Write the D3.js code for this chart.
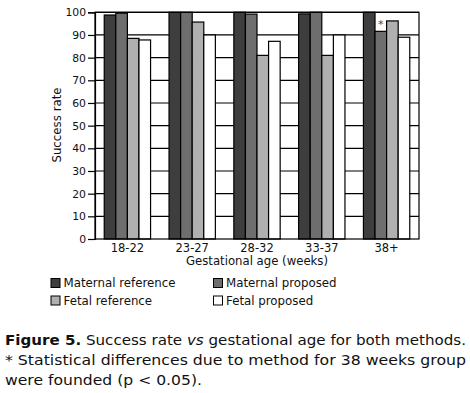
<!DOCTYPE html>
<html><head><meta charset="utf-8">
<script src="https://cdn.jsdelivr.net/npm/d3@7"></script>
<style>
html,body{margin:0;padding:0;background:#fff;}
svg{display:block;font-family:"DejaVu Sans",sans-serif;}
</style></head>
<body>
<svg id="chart" width="470" height="393"></svg>
<script>
const categories = ["18-22","23-27","28-32","33-37","38+"];
const seriesNames = ["Maternal reference","Maternal proposed","Fetal reference","Fetal proposed"];
const maternalReference = [98.8, 100, 100, 99.3, 100];
const maternalProposed  = [99.6, 100, 99.2, 100, 91.6];
const fetalReference    = [88.5, 95.7, 81.0, 81.0, 96.2];
const fetalProposed     = [87.8, 90.0, 87.2, 90.0, 89.0];
const yTicks = [0,10,20,30,40,50,60,70,80,90,100];
const significant = ["38+"]; // marked with * on Maternal proposed

const seriesValues = [maternalReference, maternalProposed, fetalReference, fetalProposed];
const colors = ["#3e3e3e","#6e6e6e","#b0b0b0","#ffffff"];

(function(){
const svg = d3.select("#chart");
const pLeft = 95, pRight = 419, pTop = 12.3, pBottom = 239;

const x0 = d3.scaleBand().domain(categories).range([pLeft, pRight])
  .paddingInner(0.285).paddingOuter(0.1425);
const x1 = d3.scaleBand().domain(seriesNames).range([0, x0.bandwidth()]);
const y = d3.scaleLinear().domain([0,100]).range([pBottom, pTop]);

// gridlines
svg.append("g").selectAll("line").data(yTicks.filter(d=>d>0)).join("line")
  .attr("x1", pLeft).attr("x2", pRight)
  .attr("y1", d=>y(d)).attr("y2", d=>y(d))
  .attr("stroke","#000").attr("stroke-width",1.2);

// bars
const data = categories.map((c,i)=>({cat:c, vals: seriesNames.map((s,j)=>({s, v: seriesValues[j][i], color: colors[j]}))}));
const groups = svg.append("g").selectAll("g").data(data).join("g")
  .attr("transform", d=>`translate(${x0(d.cat)},0)`);
groups.selectAll("rect").data(d=>d.vals).join("rect")
  .attr("x", d=>x1(d.s)).attr("width", x1.bandwidth())
  .attr("y", d=>y(d.v)).attr("height", d=>y(0)-y(d.v))
  .attr("fill", d=>d.color).attr("stroke","#000").attr("stroke-width",1.2);

// significance star
svg.append("g").selectAll("text").data(significant).join("text")
  .attr("x", d=>x0(d)+x1("Maternal proposed")+x1.bandwidth()/2)
  .attr("y", d=>y(maternalProposed[categories.indexOf(d)]) - 3)
  .attr("text-anchor","middle").attr("font-size",11).attr("fill","#444").text("*");

// frame
svg.append("rect").attr("x",pLeft).attr("y",pTop).attr("width",pRight-pLeft).attr("height",pBottom-pTop)
  .attr("fill","none").attr("stroke","#000").attr("stroke-width",1.2);

// y axis
const yAxis = svg.append("g").attr("transform",`translate(${pLeft},0)`)
  .call(d3.axisLeft(y).tickValues(yTicks).tickSize(7).tickPadding(2));
yAxis.select(".domain").attr("stroke","#000").attr("stroke-width",1.2);
yAxis.selectAll(".tick line").attr("stroke","#000").attr("stroke-width",1.2);
yAxis.selectAll("text").attr("font-size","10.8px").attr("font-family","DejaVu Sans").attr("fill","#111");

// x axis labels
const xAxis = svg.append("g").attr("transform",`translate(0,${pBottom})`)
  .call(d3.axisBottom(x0).tickSize(0).tickPadding(5));
xAxis.select(".domain").remove();
xAxis.selectAll("text").attr("font-size","11.5px").attr("font-family","DejaVu Sans").attr("fill","#111");

// axis titles
svg.append("text").attr("x",(pLeft+pRight)/2).attr("y",265)
  .attr("text-anchor","middle").attr("font-size","11.7px").attr("fill","#111")
  .text("Gestational age (weeks)");
svg.append("text").attr("transform","translate(61,125) rotate(-90)")
  .attr("text-anchor","middle").attr("font-size","11.8px").attr("fill","#111")
  .text("Success rate");

// legend
const legPos = [[51,278.5],[213.5,278.5],[51,296],[213.5,296]];
const leg = svg.append("g").selectAll("g").data(seriesNames).join("g")
  .attr("transform",(d,i)=>`translate(${legPos[i][0]},${legPos[i][1]})`);
leg.append("rect").attr("width",9).attr("height",9)
  .attr("fill",(d,i)=>colors[i]).attr("stroke","#000").attr("stroke-width",1);
leg.append("text").attr("x",12.5).attr("y",8.5).attr("font-size","11.8px").attr("fill","#111").text(d=>d);

// caption
const capLeft = 5;
function captionLine(yPos, parts, width){
  const t = svg.append("text").attr("x",capLeft).attr("y",yPos).attr("font-size","14.6px").attr("fill","#111")
    .attr("textLength", width).attr("lengthAdjust","spacingAndGlyphs");
  parts.forEach(p=>{
    const ts = t.append("tspan").text(p.t);
    if(p.b) ts.attr("font-weight","bold");
    if(p.i) ts.attr("font-style","italic");
  });
  return t;
}
captionLine(345, [{t:"Figure 5.",b:true},{t:" Success rate "},{t:"vs",i:true},{t:" gestational age for both methods."}], 461);
captionLine(365, [{t:"* Statistical differences due to method for 38 weeks group"}], 461);
captionLine(384.5, [{t:"were founded (p < 0.05)."}], 197);
})();
</script>
</body></html>
